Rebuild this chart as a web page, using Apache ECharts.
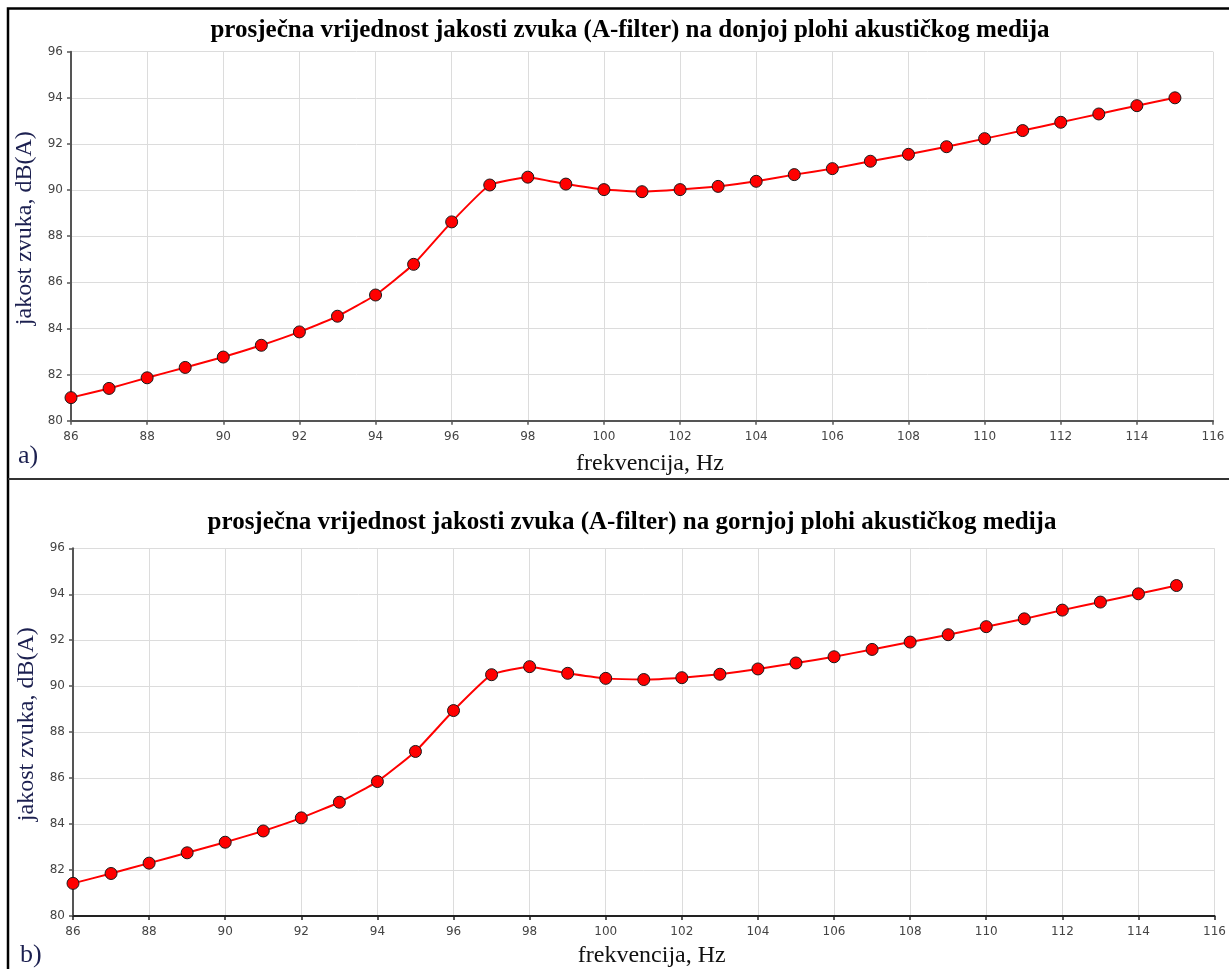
<!DOCTYPE html>
<html>
<head>
<meta charset="utf-8">
<script src="https://cdn.jsdelivr.net/npm/echarts@6/dist/echarts.min.js"></script>
<style>
html,body{margin:0;padding:0;background:#fff;}
#chart{width:1229px;height:969px;}
</style>
</head>
<body>
<div id="chart"></div>
<script>
const frequencies = [86,87,88,89,90,91,92,93,94,95,96,97,98,99,100,101,102,103,104,105,106,107,108,109,110,111,112,113,114,115];
const lowerSurface = [81.0,81.4,81.86,82.31,82.76,83.27,83.85,84.53,85.45,86.78,88.62,90.22,90.56,90.26,90.02,89.93,90.02,90.16,90.38,90.67,90.93,91.25,91.55,91.88,92.23,92.58,92.94,93.3,93.66,94.0];
const upperSurface = [81.42,81.85,82.3,82.75,83.21,83.7,84.27,84.95,85.85,87.16,88.94,90.5,90.85,90.56,90.34,90.29,90.37,90.52,90.75,91.01,91.28,91.6,91.92,92.24,92.59,92.93,93.31,93.66,94.02,94.38];
const titleA = 'prosječna vrijednost jakosti zvuka (A-filter) na donjoj plohi akustičkog medija';
const titleB = 'prosječna vrijednost jakosti zvuka (A-filter) na gornjoj plohi akustičkog medija';
const xName = 'frekvencija, Hz';
const yName = 'jakost zvuka, dB(A)';

const chart = echarts.init(document.getElementById('chart'));

function xAxisDef(gi, lineColor, gap){
  return {
    type:'value', gridIndex:gi, min:86, max:116, interval:2,
    name:xName, nameLocation:'middle', nameGap:gap,
    nameTextStyle:{fontFamily:'Liberation Serif', fontSize:24, color:'#111', padding:[0,0,0,16]},
    axisLine:{show:true, onZero:false, lineStyle:{color:lineColor, width:2}},
    axisTick:{show:true, length:4, lineStyle:{color:lineColor, width:1.5}},
    axisLabel:{fontFamily:'DejaVu Sans', fontSize:12, color:'#444', margin:10},
    splitLine:{show:true, lineStyle:{color:'#dcdcdc', width:1}}
  };
}
function yAxisDef(gi){
  return {
    type:'value', gridIndex:gi, min:80, max:96, interval:2,
    name:yName, nameLocation:'middle', nameGap:30, nameRotate:90,
    nameTextStyle:{fontFamily:'Liberation Serif', fontSize:24, color:'#1c2050', padding:[0,0,0,16]},
    axisLine:{show:true, onZero:false, lineStyle:{color:'#555', width:2}},
    axisTick:{show:true, length:4, lineStyle:{color:'#555', width:1.5}},
    axisLabel:{fontFamily:'DejaVu Sans', fontSize:12, color:'#444', margin:8},
    splitLine:{show:true, lineStyle:{color:'#dcdcdc', width:1}}
  };
}
function seriesDef(gi, vals){
  return {
    type:'line', xAxisIndex:gi, yAxisIndex:gi,
    data: frequencies.map((f,i)=>[f, vals[i]]),
    smooth:0.12,
    symbol:'circle', symbolSize:12,
    lineStyle:{color:'#ff0000', width:2},
    itemStyle:{color:'#ff0000', borderColor:'#1a1a1a', borderWidth:1},
    emphasis:{disabled:true},
    animation:false
  };
}

chart.setOption({
  backgroundColor:'#fff',
  animation:false,
  grid:[
    {left:71, top:51.7, width:1142, height:369},
    {left:73, top:548.3, width:1142, height:368.7}
  ],
  xAxis:[xAxisDef(0,'#555',31), xAxisDef(1,'#222',28)],
  yAxis:[yAxisDef(0), yAxisDef(1)],
  series:[seriesDef(0, lowerSurface), seriesDef(1, upperSurface)],
  graphic:[
    {type:'rect', shape:{x:8, y:8.5, width:1260, height:1020}, style:{fill:'none', stroke:'#000', lineWidth:2.5}, silent:true},
    {type:'line', shape:{x1:8, y1:479, x2:1229, y2:479}, style:{stroke:'#333', lineWidth:2}, silent:true},
    {type:'text', x:630, y:31, style:{text:titleA, font:'bold 25px "Liberation Serif"', fill:'#000', textAlign:'center', textVerticalAlign:'middle'}},
    {type:'text', x:632, y:523, style:{text:titleB, font:'bold 25px "Liberation Serif"', fill:'#000', textAlign:'center', textVerticalAlign:'middle'}},
    {type:'text', x:18, y:456, style:{text:'a)', font:'26px "Liberation Serif"', fill:'#1c2050', textAlign:'left', textVerticalAlign:'middle'}},
    {type:'text', x:20, y:955, style:{text:'b)', font:'26px "Liberation Serif"', fill:'#1c2050', textAlign:'left', textVerticalAlign:'middle'}}
  ]
});
</script>
</body>
</html>
